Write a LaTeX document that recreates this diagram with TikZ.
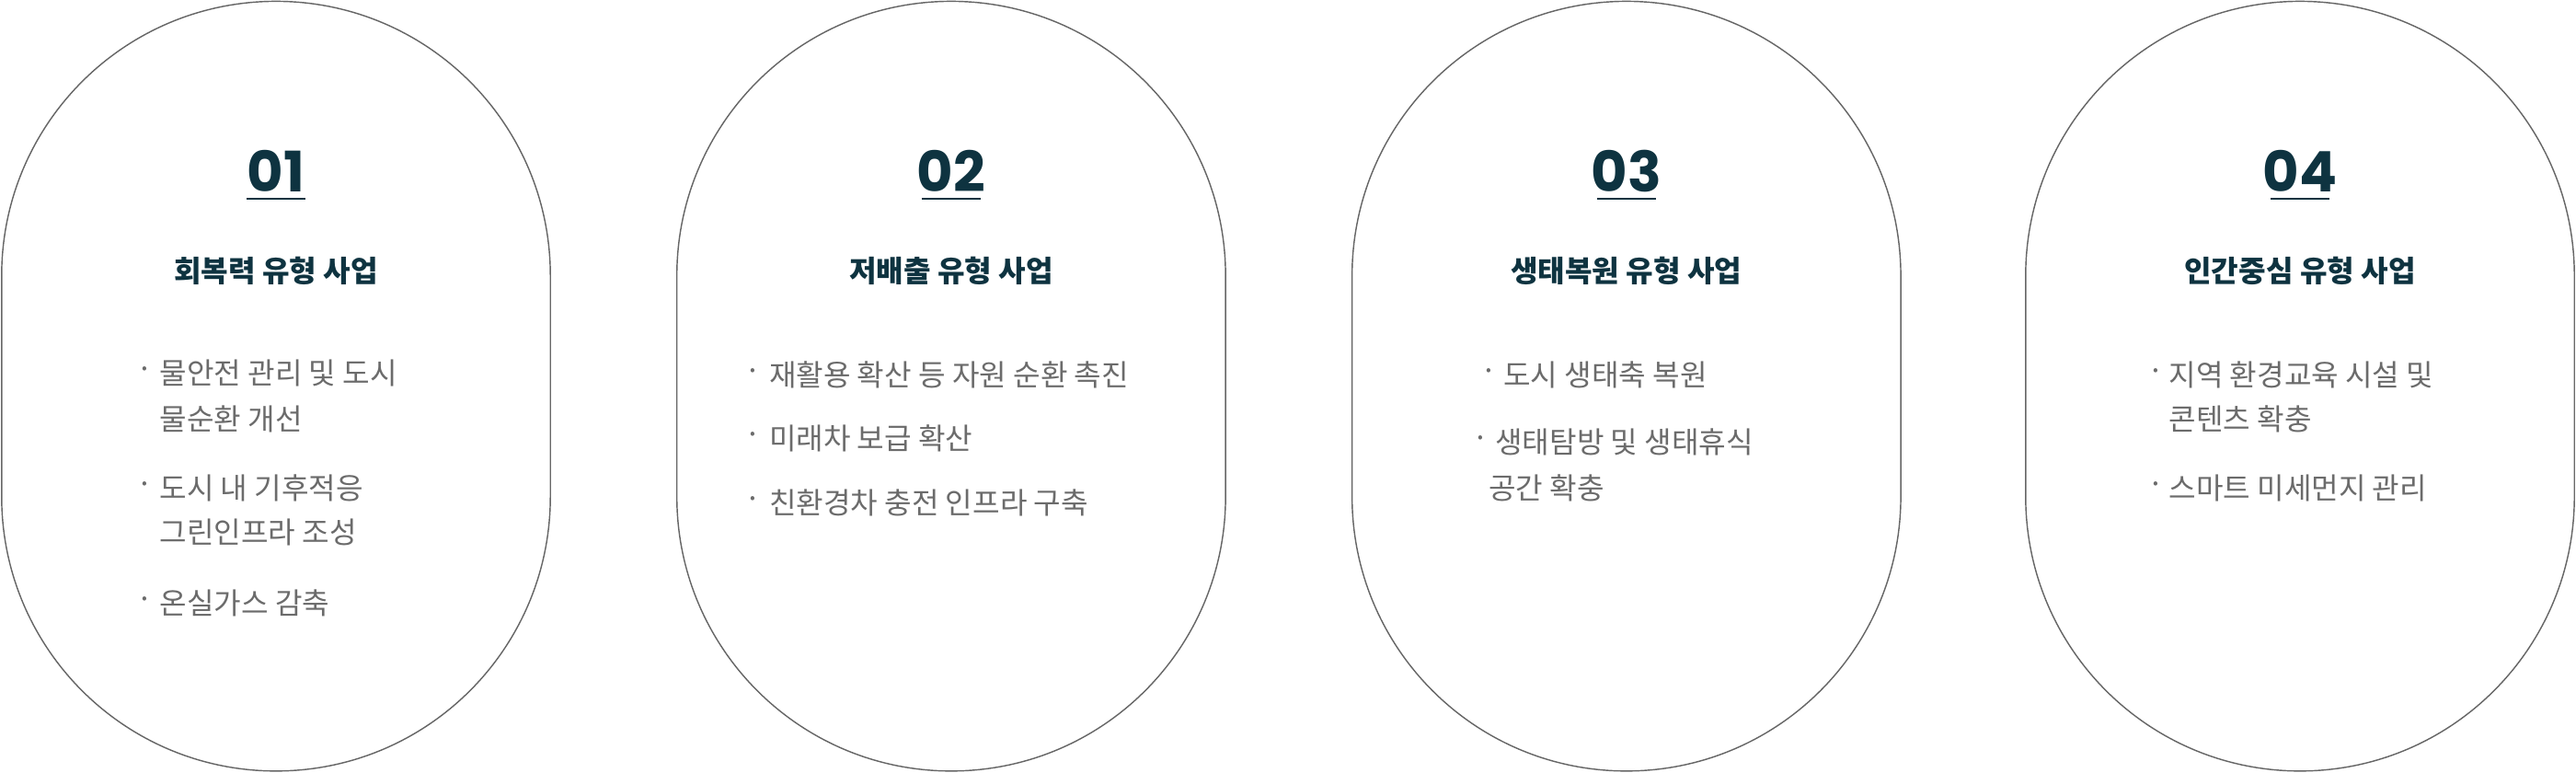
\documentclass[tikz,border=0pt]{standalone}
\usepackage{fontspec}
\setmainfont{Noto Sans CJK KR}
\newfontfamily\numfont{Poppins}
\definecolor{navy}{HTML}{0E3340}
\definecolor{txt}{HTML}{6B6B6B}
\begin{document}
\begin{tikzpicture}[x=1pt,y=-1pt,
  capsule/.style={draw=black!60,line width=0.8pt,rounded corners=167pt},
  num/.style={font=\numfont\fontsize{34}{34}\selectfont\bfseries,text=navy,inner sep=0},
  ttl/.style={font=\fontsize{18}{18}\selectfont\bfseries,text=navy,inner sep=0},
  itm/.style={font=\fontsize{18}{22}\selectfont,text=txt,anchor=west,inner sep=0},
  ul/.style={navy,line width=1.6pt}]
\useasboundingbox (0,0) rectangle (1568,470);
\foreach \c in {168,579,990,1400}{
  \draw[capsule] (\c-167,0.8) rectangle (\c+167,469.2);
}
\foreach \c/\n/\t in {168/01/회복력 유형 사업,579/02/저배출 유형 사업,990/03/생태복원 유형 사업,1400/04/인간중심 유형 사업}{
  \node[num] (n\n) at (\c,104) {\n};
  \draw[ul] (\c-18,121) -- (\c+18,121);
  \node[ttl] (t\n) at (\c,165) {\t};
}
% card 1
\node[itm] (a1) at (83,227) {·};
\node[itm] (a1t) at (97,227) {물안전 관리 및 도시};
\node[itm] (a1u) at (97,255) {물순환 개선};
\node[itm] (a2) at (83,297) {·};
\node[itm] (a2t) at (97,297) {도시 내 기후적응};
\node[itm] (a2u) at (97,324) {그린인프라 조성};
\node[itm] (a3) at (83,367) {·};
\node[itm] (a3t) at (97,367) {온실가스 감축};
% card 2
\node[itm] (b1) at (453,228) {·};
\node[itm] (b1t) at (468,228) {재활용 확산 등 자원 순환 촉진};
\node[itm] (b2) at (453,267) {·};
\node[itm] (b2t) at (468,267) {미래차 보급 확산};
\node[itm] (b3) at (453,306) {·};
\node[itm] (b3t) at (468,306) {친환경차 충전 인프라 구축};
% card 3
\node[itm] (c1) at (901,228) {·};
\node[itm] (c1t) at (915,228) {도시 생태축 복원};
\node[itm] (c2) at (896,269) {·};
\node[itm] (c2t) at (910,269) {생태탐방 및 생태휴식};
\node[itm] (c2u) at (906,297) {공간 확충};
% card 4
\node[itm] (d1) at (1307,228) {·};
\node[itm] (d1t) at (1320,228) {지역 환경교육 시설 및};
\node[itm] (d1u) at (1320,255) {콘텐츠 확충};
\node[itm] (d2) at (1307,297) {·};
\node[itm] (d2t) at (1320,297) {스마트 미세먼지 관리};
\end{tikzpicture}
\end{document}
